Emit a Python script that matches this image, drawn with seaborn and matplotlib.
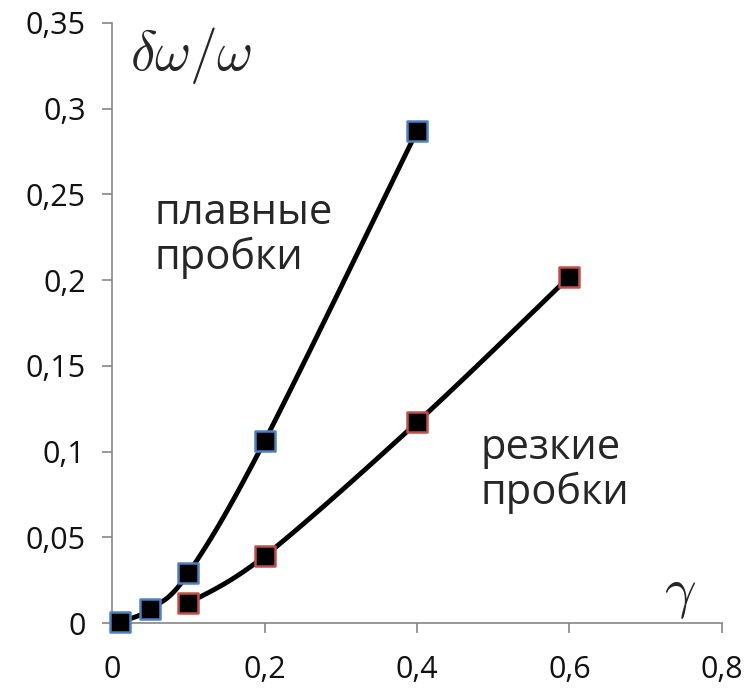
import numpy as np
import matplotlib
matplotlib.use("Agg")
import matplotlib.pyplot as plt
import seaborn as sns
import pandas as pd

# data
smooth_x = [0.01, 0.05, 0.1, 0.2, 0.4]
smooth_y = [0.0005, 0.008, 0.029, 0.106, 0.287]
sharp_x = [0.1, 0.2, 0.4, 0.6]
sharp_y = [0.0115, 0.039, 0.117, 0.202]
x_ticks = [0, 0.2, 0.4, 0.6, 0.8]
x_tick_labels = ["0", "0,2", "0,4", "0,6", "0,8"]
y_ticks = [0, 0.05, 0.1, 0.15, 0.2, 0.25, 0.3, 0.35]
y_tick_labels = ["0", "0,05", "0,1", "0,15", "0,2", "0,25", "0,3", "0,35"]


def catmull(xs, ys, n=40):
    p = np.column_stack([xs, ys]).astype(float)
    p = np.vstack([p[0], p, p[-1]])
    out = []
    for i in range(1, len(p) - 2):
        p0, p1, p2, p3 = p[i - 1], p[i], p[i + 1], p[i + 2]
        c1 = p1 + (p2 - p0) / 6.0
        c2 = p2 - (p3 - p1) / 6.0
        t = np.linspace(0, 1, n)[:, None]
        seg = ((1 - t) ** 3) * p1 + 3 * ((1 - t) ** 2) * t * c1 + 3 * (1 - t) * t ** 2 * c2 + t ** 3 * p2
        out.append(seg if i == 1 else seg[1:])
    a = np.vstack(out)
    return a[:, 0], a[:, 1]


sns.set_style("white")
plt.rcParams['font.family'] = ['Open Sans', 'DejaVu Sans']

fig = plt.figure(figsize=(7.47, 6.93), dpi=100)
ax = fig.add_axes([0.150, 0.101, 0.8165, 0.866])

for xs, ys, ec in [(smooth_x, smooth_y, "#4f81bd"), (sharp_x, sharp_y, "#c0504d")]:
    cx, cy = catmull(xs, ys)
    ax.plot(cx, cy, color="black", lw=3.5, solid_capstyle="round", zorder=2)
    df = pd.DataFrame({"x": xs, "y": ys})
    sns.scatterplot(data=df, x="x", y="y", ax=ax, marker="s", s=210, color="black",
                    edgecolor=ec, linewidth=1.8, zorder=3, clip_on=False)

ax.set_xlim(0, 0.8)
ax.set_ylim(0, 0.35)
ax.set_xticks(x_ticks)
ax.set_xticklabels(x_tick_labels)
ax.set_yticks(y_ticks)
ax.set_yticklabels(y_tick_labels)
ax.set_xlabel("")
ax.set_ylabel("")
for s in ["top", "right"]:
    ax.spines[s].set_visible(False)
for s in ["left", "bottom"]:
    ax.spines[s].set_color("#868686")
    ax.spines[s].set_linewidth(1.2)
ax.tick_params(axis="both", direction="out", length=7, width=1.2, color="#868686",
               labelsize=22, labelcolor="#111111", left=True, bottom=True)
ax.tick_params(axis="y", pad=12)
ax.tick_params(axis="x", pad=16)

ax.text(0.024, 0.331, r"$\delta\omega/\omega$", fontsize=40,
        ha="left", va="center", math_fontfamily="cm")
ax.text(0.745, 0.018, r"$\gamma$", fontsize=40, ha="center", va="center", math_fontfamily="cm")
ax.text(0.056, 0.226, "плавные\nпробки", fontsize=30, ha="left", va="center", linespacing=1.1)
ax.text(0.483, 0.089, "резкие\nпробки", fontsize=30, ha="left", va="center", linespacing=1.1)

fig.savefig("out.png", dpi=100, facecolor="white")
